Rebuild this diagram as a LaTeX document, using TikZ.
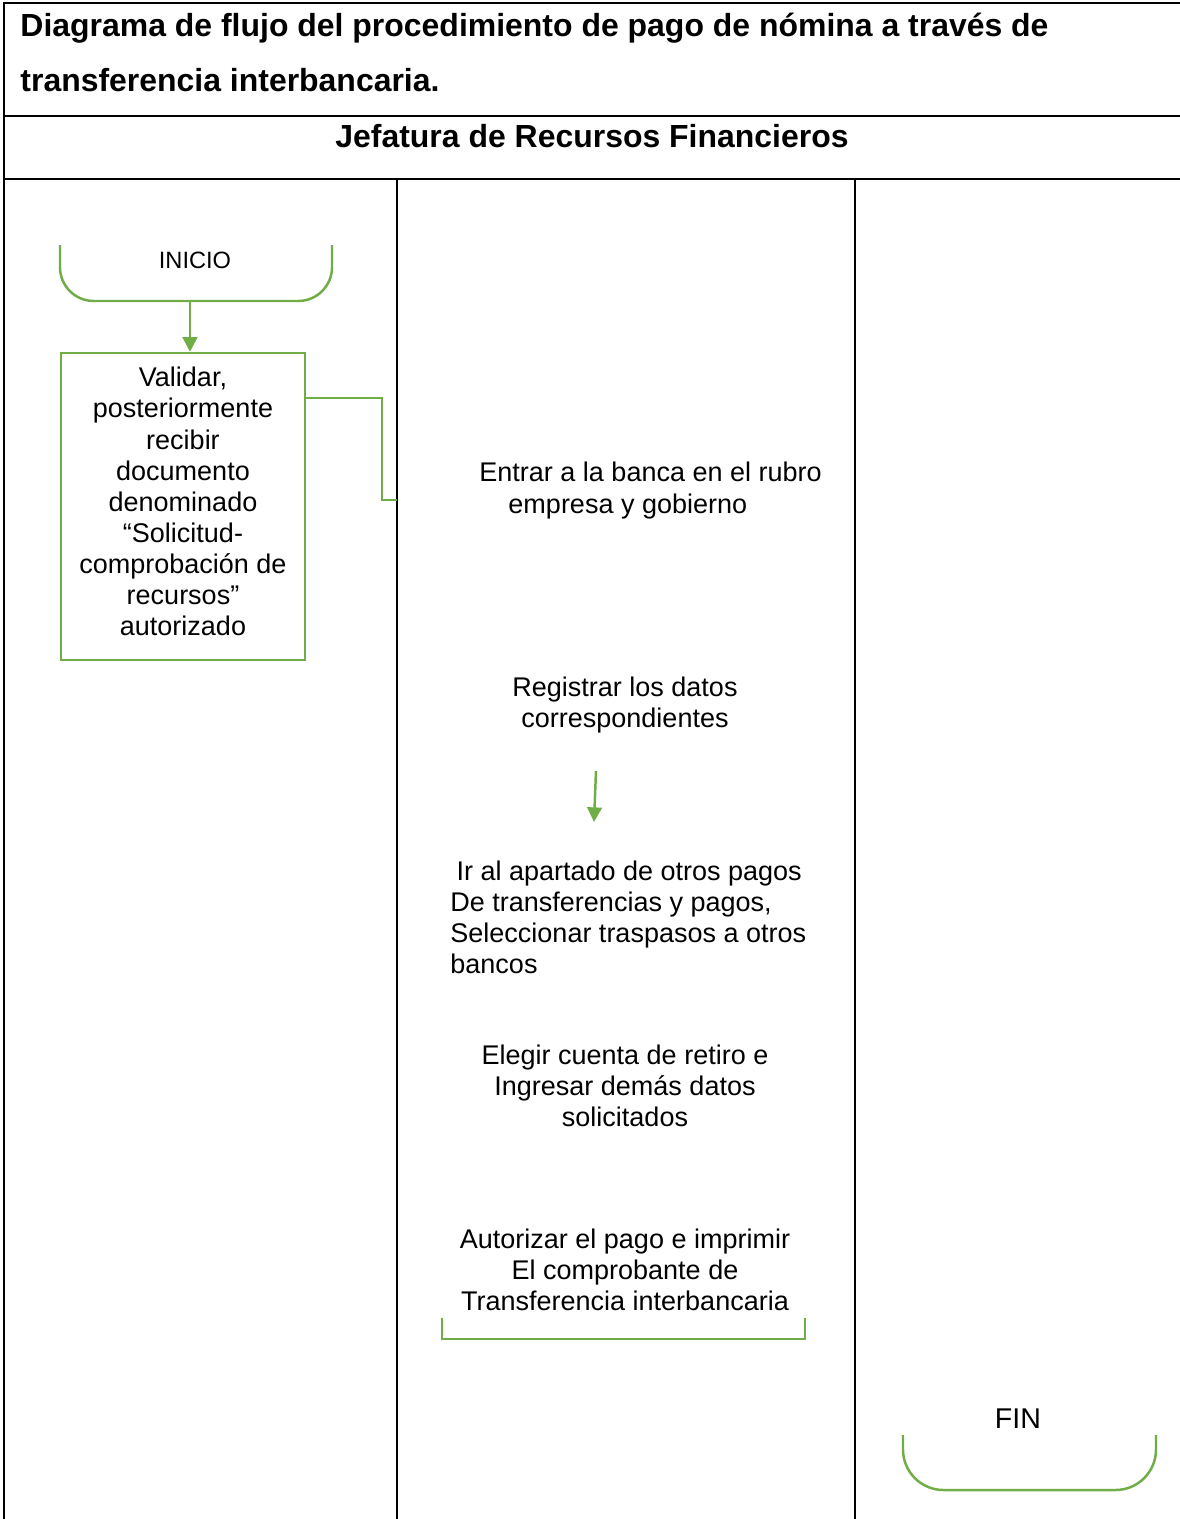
\documentclass[tikz,border=0pt]{standalone}
\usepackage{fontspec}
\setmainfont{Liberation Sans}
\usetikzlibrary{arrows.meta,positioning,calc}
\definecolor{flowgreen}{RGB}{112, 173, 71}
\definecolor{gridblack}{RGB}{0, 0, 0}

\begin{document}
\begin{tikzpicture}[
    x=0.4444pt, y=-0.4444pt,
    font=\fontsize{12}{13.8}\selectfont,
    every node/.style={align=center, inner sep=0pt},
    rule/.style={draw=gridblack, line width=1.2pt},
    lane/.style={draw=gridblack, line width=0.9pt},
    term/.style={draw=flowgreen, line width=1.1pt, rounded corners=15pt},
    proc/.style={rectangle, draw=flowgreen, line width=1.1pt, minimum width=108.4pt, minimum height=136.4pt},
    note/.style={align=center},
    flow/.style={-{Triangle[length=6.5pt, width=6.5pt]}, draw=flowgreen, line width=1.1pt},
    link/.style={draw=flowgreen, line width=1.1pt}
]
    \useasboundingbox (0,0) rectangle (1180,1519);

    % table frame
    \draw[rule] (1180,3) -- (4,3) -- (4,1519);
    \draw[rule] (4,116) -- (1180,116);
    \draw[rule] (4,179) -- (1180,179);
    \draw[lane] (397,179) -- (397,1519);
    \draw[lane] (855,179) -- (855,1519);

    \node[anchor=west, align=left, font=\fontsize{14.2}{24.4}\selectfont\bfseries] (title) at (20,52)
        {Diagrama de flujo del procedimiento de pago de nómina a través de\\transferencia interbancaria.};
    \node[font=\fontsize{14.2}{16}\selectfont\bfseries] (jefatura) at (592,136) {Jefatura de Recursos Financieros};

    % first lane
    \node[font=\fontsize{10.5}{12}\selectfont] (inicio) at (195,260) {INICIO};
    \draw[term] (60,245) -- (60,301) -- (332,301) -- (332,245);
    \node[proc, text depth=4.6pt] (validar) at (183,506.5) {Validar,\\posteriormente\\recibir\\documento\\denominado\\“Solicitud-\\comprobación de\\recursos”\\autorizado};

    % second lane
    \node[anchor=west, align=left] (banca) at (479,490.5) {Entrar a la banca en el rubro\\\hspace*{12.9pt}empresa y gobierno};
    \node[note] (registrar) at (625,705) {Registrar los datos\\correspondientes};
    \node[anchor=west, align=left] (apartado) at (450,917) {\hspace*{2.7pt}Ir al apartado de otros pagos\\De transferencias y pagos,\\Seleccionar traspasos a otros\\bancos};
    \node[note] (elegir) at (625,1086) {Elegir cuenta de retiro e\\Ingresar demás datos\\solicitados};
    \node[note] (autorizar) at (625,1270) {Autorizar el pago e imprimir\\El comprobante de\\Transferencia interbancaria};
    \draw[link] (442,1318) -- (442,1339) -- (805,1339) -- (805,1318);

    % third lane
    \node[font=\fontsize{12.7}{14}\selectfont] (fin) at (1018,1419) {FIN};
    \draw[term, rounded corners=18pt] (903,1435) -- (903,1490) -- (1156,1490) -- (1156,1435);

    % connectors
    \coordinate (inicio-base) at (190,301);
    \coordinate (validar-out) at ($(validar.north east)+(0,46)$);
    \coordinate (banca-in) at (397,500);
    \coordinate (datos-out) at (596,771);
    \coordinate (pagos-in) at (594,822);

    \draw[flow] (inicio-base) -- (inicio-base |- validar.north);
    \draw[link] (validar-out) -| ($(banca-in)+(-15,0)$) -- (banca-in);
    \draw[flow] (datos-out) -- (pagos-in);
\end{tikzpicture}
\end{document}
